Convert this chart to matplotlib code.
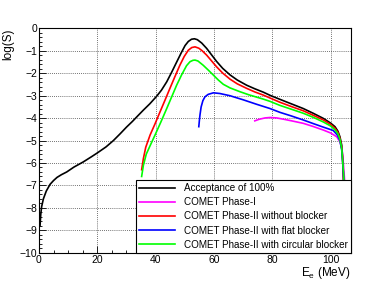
import matplotlib
matplotlib.use("Agg")
import matplotlib.pyplot as plt
from matplotlib.ticker import MultipleLocator

plt.rcParams['font.family'] = ['Liberation Sans', 'DejaVu Sans']

x_black = [0.35, 0.6, 0.9, 1.5, 2.5, 3.8, 5, 6.2, 7.7, 9.5, 12, 15.2, 18, 20, 23, 25.5, 27.8, 30, 32, 34,
           35.8, 38, 40.3, 42, 43.8, 45.5, 47.2, 48.8, 50.1, 51.2, 52.3, 53.3, 54.3, 55.8, 57.5, 59.2, 60.9,
           63, 65.5, 68, 71.2, 74, 76.9, 79.2, 82.6, 86.5, 90.6, 94, 97.5, 100, 101.5, 102.5, 103.2, 103.8,
           104.1, 104.35, 104.5]
y_black = [-8.8, -8.3, -7.95, -7.6, -7.25, -6.95, -6.78, -6.64, -6.52, -6.4, -6.18, -5.95, -5.72, -5.55,
           -5.28, -5.0, -4.7, -4.4, -4.15, -3.88, -3.64, -3.36, -3.03, -2.75, -2.38, -1.95, -1.5, -1.08,
           -0.76, -0.58, -0.48, -0.46, -0.5, -0.65, -0.89, -1.18, -1.47, -1.78, -2.07, -2.3, -2.53, -2.69,
           -2.84, -2.98, -3.16, -3.36, -3.57, -3.78, -4.01, -4.22, -4.38, -4.58, -4.83, -5.2, -5.7, -6.4, -7.0]

x_red = [35.2, 35.8, 36.6, 38.1, 39.8, 41.5, 43.2, 44.9, 46.6, 48.3, 49.8, 51.2, 52.4, 53.5, 54.8, 56, 57.5,
         59.2, 60.9, 63, 65.5, 68, 71.2, 74, 76.9, 79.2, 82.6, 86.5, 90.6, 94, 97.5, 100, 101.5, 102.5,
         103.2, 103.8, 104.1, 104.35, 104.5]
y_red = [-6.3, -5.8, -5.3, -4.75, -4.25, -3.72, -3.2, -2.67, -2.15, -1.64, -1.25, -0.97, -0.85, -0.82, -0.88,
         -1.0, -1.19, -1.45, -1.71, -1.99, -2.26, -2.47, -2.67, -2.83, -2.97, -3.1, -3.29, -3.48, -3.67,
         -3.87, -4.08, -4.28, -4.45, -4.64, -4.9, -5.3, -5.8, -6.5, -7.0]

x_green = [35.2, 35.8, 36.8, 38.2, 39.8, 41.8, 43.8, 45.5, 47.2, 48.9, 50.6, 51.8, 52.8, 53.5, 54.5, 56.3,
           58, 59.8, 61.5, 63.2, 65.5, 68.9, 72, 76.9, 79.2, 82.6, 86.5, 90.6, 94, 97.5, 100, 101.5, 102.5,
           103.2, 103.8, 104.1, 104.4, 104.6]
y_green = [-6.6, -6.1, -5.6, -5.2, -4.75, -4.17, -3.57, -3.05, -2.53, -2.07, -1.66, -1.48, -1.42, -1.41,
           -1.45, -1.64, -1.85, -2.08, -2.3, -2.49, -2.65, -2.82, -2.96, -3.15, -3.25, -3.43, -3.6, -3.78,
           -3.96, -4.17, -4.35, -4.52, -4.7, -4.95, -5.35, -5.85, -6.4, -6.9]

x_blue = [54.8, 55.0, 55.2, 55.6, 56.2, 56.9, 58, 59.8, 62, 65.5, 70, 74.6, 79.2, 82.6, 86.5, 90.6, 94,
          97.5, 100.9, 102.3, 103.2, 103.8, 104.1, 104.35, 104.5]
y_blue = [-4.38, -4.1, -3.86, -3.5, -3.22, -3.05, -2.94, -2.87, -2.9, -3.0, -3.18, -3.38, -3.57, -3.74,
          -3.9, -4.08, -4.24, -4.4, -4.55, -4.75, -5.0, -5.4, -5.9, -6.4, -6.8]

x_mag = [74, 75.5, 77.5, 79.2, 81.5, 84, 87, 90.6, 94, 97.5, 100, 102.1, 103.2, 103.9, 104.3, 104.6, 104.8]
y_mag = [-4.12, -4.05, -3.99, -3.97, -3.99, -4.05, -4.13, -4.23, -4.37, -4.53, -4.66, -4.83, -5.05, -5.4,
         -5.9, -6.4, -6.8]

labels = ["Acceptance of 100%", "COMET Phase-I", "COMET Phase-II without blocker",
          "COMET Phase-II with flat blocker", "COMET Phase-II with circular blocker"]
colors = ["#000000", "#ff00ff", "#ff0000", "#0000ff", "#00ff00"]

fig = plt.figure(figsize=(3.9, 2.81), dpi=100)
ax = fig.add_axes([0.1, 0.1007, 0.7993, 0.798])

series = [(x_black, y_black), (x_mag, y_mag), (x_red, y_red), (x_blue, y_blue), (x_green, y_green)]
handles = []
for (xs, ys), c, lab in zip(series, colors, labels):
    h, = ax.plot(xs, ys, color=c, lw=1.2, label=lab, solid_joinstyle='round')
    handles.append(h)

ax.set_xlim(0, 106.9)
ax.set_ylim(-10, 0)
ax.xaxis.set_major_locator(MultipleLocator(20))
ax.xaxis.set_minor_locator(MultipleLocator(5))
ax.yaxis.set_major_locator(MultipleLocator(1))
ax.yaxis.set_minor_locator(MultipleLocator(0.2))
ax.grid(True, which='major', color='#444444', linestyle=(0, (1, 1.5)), lw=0.6)
ax.tick_params(which='both', direction='in', top=False, right=False, labelsize=7.5, pad=2)
ax.tick_params(which='major', length=5, width=0.6)
ax.tick_params(which='minor', length=2.5, width=0.6)
ax.tick_params(axis='y', pad=1)
for s in ax.spines.values():
    s.set_linewidth(0.8)

fig.text(350 / 390, 1 - 276 / 281, "E$_{\\mathregular{e}}$ (MeV)", fontsize=8.5,
         ha='right', va='baseline')
ax.set_ylabel("log(S)", fontsize=8.5, loc='top', labelpad=4)

leg = ax.legend(handles=handles, loc='lower right', bbox_to_anchor=(1.0, 0.0), fontsize=7.1,
                frameon=True, fancybox=False, edgecolor='black', framealpha=1,
                handlelength=3.7, handletextpad=0.9, borderpad=0.3, labelspacing=0.42,
                borderaxespad=0)
leg.get_frame().set_linewidth(0.8)

fig.savefig("out.png", dpi=100)
